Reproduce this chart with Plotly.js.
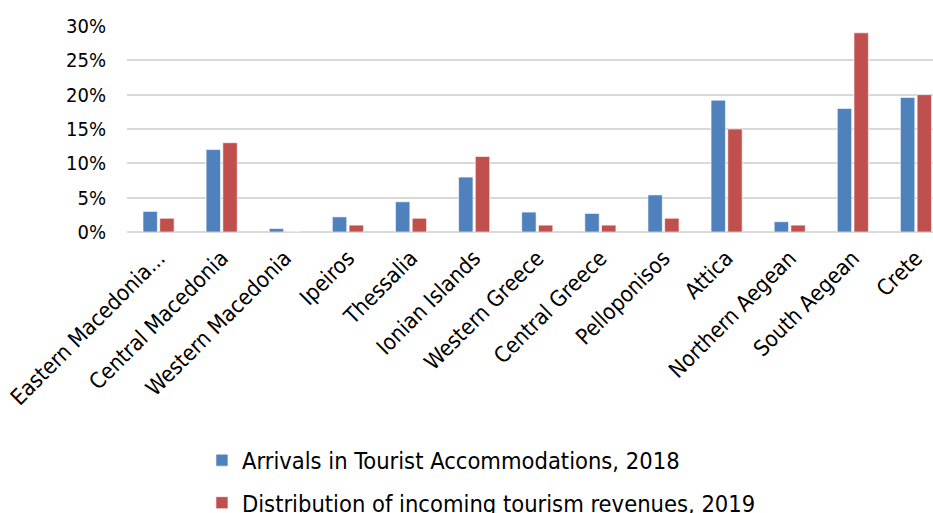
<!DOCTYPE html>
<html>
<head>
<meta charset="utf-8">
<script src="https://cdn.plot.ly/plotly-3.0.1.min.js"></script>
<style>html,body{margin:0;padding:0;background:#fff;}#chart{width:933px;height:513px;}</style>
</head>
<body>
<div id="chart"></div>
<script>
const regions = ["Eastern Macedonia...", "Central Macedonia", "Western Macedonia", "Ipeiros", "Thessalia", "Ionian Islands", "Western Greece", "Central Greece", "Pelloponisos", "Attica", "Northern Aegean", "South Aegean", "Crete"];
const arrivals2018 = [3.0, 12.0, 0.5, 2.2, 4.4, 8.0, 2.9, 2.7, 5.4, 19.2, 1.5, 18.0, 19.6];
const revenues2019 = [2.0, 13.0, 0.0, 1.0, 2.0, 11.0, 1.0, 1.0, 2.0, 15.0, 1.0, 29.0, 20.0];
const seriesNames = ["Arrivals in Tourist Accommodations, 2018", "Distribution of incoming tourism revenues, 2019"];
const yTicks = [0, 5, 10, 15, 20, 25, 30];

const FONT = "DejaVu Sans Condensed, DejaVu Sans, sans-serif";
const data = [
  {type: "bar", x: regions, y: arrivals2018, name: seriesNames[0], legendgroup: "a",
   marker: {color: "#4F81BD", line: {color: "rgba(255,255,255,0.6)", width: 1}}},
  {type: "bar", x: regions, y: revenues2019, name: seriesNames[1], legendgroup: "b",
   marker: {color: "#C0504D", line: {color: "rgba(255,255,255,0.6)", width: 1}}}
];
const layout = {
  width: 933, height: 513,
  margin: {l: 127, r: 0, t: 26, b: 281, pad: 0},
  paper_bgcolor: "#fff", plot_bgcolor: "#fff",
  font: {family: FONT, size: 20, color: "#000"},
  barmode: "group", bargap: 0.47, bargroupgap: 0.14,
  showlegend: true,
  legend: {orientation: "v", x: 0.093, xanchor: "left", xref: "paper", y: 0.1455, yanchor: "top", yref: "container",
           font: {family: FONT, size: 23.5, color: "#000"}, tracegroupgap: 9, bgcolor: "rgba(0,0,0,0)"},
  xaxis: {range: [-0.5, 12.27], tickangle: -45, automargin: false, showgrid: false,
          showline: false, zeroline: false, ticks: "", ticklabelstandoff: 8,
          tickfont: {family: FONT, size: 22, color: "#000"}, fixedrange: true},
  yaxis: {range: [0, 30], tickvals: yTicks, ticktext: yTicks.map(v => v + "%"), automargin: false,
          showgrid: true, gridcolor: "#d9d9d9", gridwidth: 2, zeroline: true, zerolinecolor: "#d9d9d9", zerolinewidth: 2,
          showline: false, ticks: "", ticklabelstandoff: 20,
          tickfont: {family: FONT, size: 20, color: "#000"}, fixedrange: true}
};
Plotly.newPlot("chart", data, layout, {displayModeBar: false, staticPlot: true});
</script>
</body>
</html>
